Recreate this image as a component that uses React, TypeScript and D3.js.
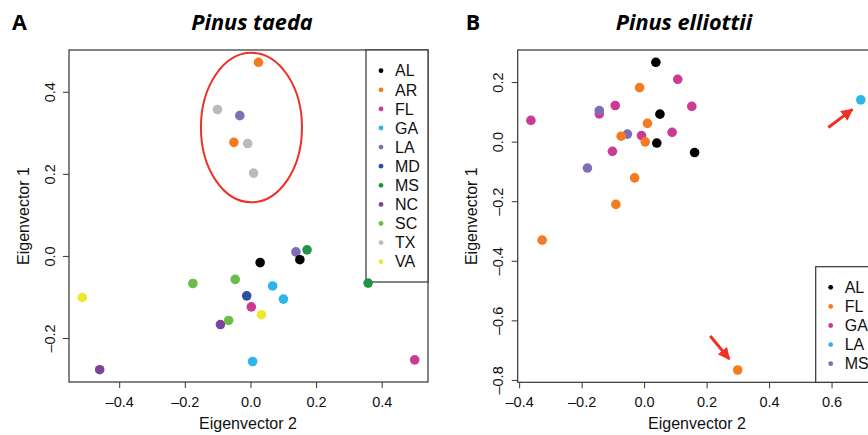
import React from "react";
import * as d3 from "d3";

// ---------- Data ----------
const taedaStates = ["AL", "AR", "FL", "GA", "LA", "MD", "MS", "NC", "SC", "TX", "VA"];
const taedaColors = ["#000000", "#F47B20", "#CC3A96", "#2CB6E8", "#7F6DB6", "#2D4F9E", "#1E9446", "#7A449B", "#6BBD45", "#BBBBBF", "#EEE82B"];
const taedaPoints = [
  { s: "AR", x: 0.023, y: 0.473 },
  { s: "TX", x: -0.102, y: 0.358 },
  { s: "LA", x: -0.034, y: 0.343 },
  { s: "AR", x: -0.052, y: 0.278 },
  { s: "TX", x: -0.010, y: 0.275 },
  { s: "TX", x: 0.008, y: 0.203 },
  { s: "MS", x: 0.171, y: 0.016 },
  { s: "LA", x: 0.137, y: 0.011 },
  { s: "AL", x: 0.028, y: -0.015 },
  { s: "AL", x: 0.149, y: -0.008 },
  { s: "MS", x: 0.357, y: -0.065 },
  { s: "SC", x: -0.177, y: -0.066 },
  { s: "SC", x: -0.048, y: -0.056 },
  { s: "GA", x: 0.066, y: -0.072 },
  { s: "MD", x: -0.013, y: -0.096 },
  { s: "GA", x: 0.099, y: -0.104 },
  { s: "VA", x: -0.514, y: -0.100 },
  { s: "FL", x: 0.001, y: -0.123 },
  { s: "VA", x: 0.032, y: -0.142 },
  { s: "NC", x: -0.093, y: -0.166 },
  { s: "SC", x: -0.068, y: -0.156 },
  { s: "GA", x: 0.005, y: -0.256 },
  { s: "FL", x: 0.499, y: -0.252 },
  { s: "NC", x: -0.461, y: -0.276 },
];
const taedaXTicks = [-0.4, -0.2, 0.0, 0.2, 0.4];
const taedaYTicks = [-0.2, 0.0, 0.2, 0.4];

const elliottiiStates = ["AL", "FL", "GA", "LA", "MS"];
const elliottiiColors = ["#000000", "#F47B20", "#CC3A96", "#2CB6E8", "#7F6DB6"];
const elliottiiPoints = [
  { s: "AL", x: 0.036, y: 0.268 },
  { s: "GA", x: 0.106, y: 0.211 },
  { s: "FL", x: -0.016, y: 0.183 },
  { s: "LA", x: 0.692, y: 0.142 },
  { s: "GA", x: -0.094, y: 0.123 },
  { s: "GA", x: 0.151, y: 0.120 },
  { s: "GA", x: -0.145, y: 0.095 },
  { s: "MS", x: -0.145, y: 0.106 },
  { s: "GA", x: -0.364, y: 0.073 },
  { s: "AL", x: 0.049, y: 0.094 },
  { s: "FL", x: 0.009, y: 0.063 },
  { s: "MS", x: -0.055, y: 0.027 },
  { s: "FL", x: -0.075, y: 0.020 },
  { s: "GA", x: -0.010, y: 0.022 },
  { s: "GA", x: 0.088, y: 0.033 },
  { s: "FL", x: 0.002, y: 0.001 },
  { s: "AL", x: 0.039, y: -0.003 },
  { s: "AL", x: 0.160, y: -0.035 },
  { s: "GA", x: -0.103, y: -0.031 },
  { s: "MS", x: -0.183, y: -0.087 },
  { s: "FL", x: -0.032, y: -0.120 },
  { s: "FL", x: -0.092, y: -0.209 },
  { s: "FL", x: -0.328, y: -0.329 },
  { s: "FL", x: 0.298, y: -0.765 },
];
const elliottiiXTicks = [-0.4, -0.2, 0.0, 0.2, 0.4, 0.6];
const elliottiiYTicks = [-0.8, -0.6, -0.4, -0.2, 0.0, 0.2];

// annotation arrows (data coordinates): [x1, y1, x2, y2]
const elliottiiArrows = [
  [0.588, 0.049, 0.665, 0.110],
  [0.210, -0.651, 0.271, -0.728],
];
// ellipse annotation (data coordinates): cx, cy, rx, ry
const taedaEllipse = [0.0015, 0.314, 0.154, 0.182];

const AXIS_FONT = "'Liberation Sans', Arial, Helvetica, sans-serif";
const TITLE_FONT = "'Open Sans', sans-serif";

function fmt(v: number) {
  const s = d3.format(".1f")(Math.abs(v));
  return v < 0 ? "\u2013" + s : s;
}

type PanelProps = {
  letter: string;
  letterX: number;
  title: string;
  titleX: number;
  states: string[];
  colors: string[];
  points: { s: string; x: number; y: number }[];
  xTicks: number[];
  yTicks: number[];
  box: { left: number; right: number; top: number; bottom: number };
  legend: { left: number; top: number; right: number; bottom: number; firstY: number };
  yTickLabelX: number;
  yLabelX: number;
  xLabelX: number;
  children?: (x: d3.ScaleLinear<number, number>, y: d3.ScaleLinear<number, number>) => React.ReactNode;
};

function Panel(p: PanelProps) {
  const xs = p.points.map((d) => d.x);
  const ys = p.points.map((d) => d.y);
  const [xmin, xmax] = d3.extent(xs) as [number, number];
  const [ymin, ymax] = d3.extent(ys) as [number, number];
  const xr = (xmax - xmin) * 0.04;
  const yr = (ymax - ymin) * 0.04;
  const x = d3.scaleLinear().domain([xmin - xr, xmax + xr]).range([p.box.left, p.box.right]);
  const y = d3.scaleLinear().domain([ymin - yr, ymax + yr]).range([p.box.bottom, p.box.top]);
  const color = d3.scaleOrdinal<string, string>().domain(p.states).range(p.colors);
  const axisColor = "#333";
  const tickLen = 6;
  return (
    <g>
      <text x={p.letterX} y={29.5} fontFamily={TITLE_FONT} fontWeight={700} fontSize={21.5} textAnchor="middle" fill="#000">
        {p.letter}
      </text>
      <text x={p.titleX} y={29.5} fontFamily={TITLE_FONT} fontWeight={700} fontStyle="italic" fontSize={21.7} textAnchor="middle" fill="#000">
        {p.title}
      </text>
      {/* box */}
      <rect x={p.box.left} y={p.box.top} width={p.box.right - p.box.left} height={p.box.bottom - p.box.top} fill="none" stroke={axisColor} strokeWidth={1.2} />
      {/* x axis */}
      {p.xTicks.map((t) => (
        <g key={"xt" + t}>
          <line x1={x(t)} x2={x(t)} y1={p.box.bottom} y2={p.box.bottom + tickLen} stroke={axisColor} strokeWidth={1} />
          <text x={x(t)} y={406.5} textAnchor="middle" fontFamily={AXIS_FONT} fontSize={14.5} fill="#111">
            {fmt(t)}
          </text>
        </g>
      ))}
      <text x={p.xLabelX} y={428.5} textAnchor="middle" fontFamily={AXIS_FONT} fontSize={16} fill="#111">
        Eigenvector 2
      </text>
      {/* y axis */}
      {p.yTicks.map((t) => (
        <g key={"yt" + t}>
          <line x1={p.box.left - tickLen} x2={p.box.left} y1={y(t)} y2={y(t)} stroke={axisColor} strokeWidth={1} />
          <text transform={`translate(${p.yTickLabelX},${y(t)}) rotate(-90)`} textAnchor="middle" fontFamily={AXIS_FONT} fontSize={14.5} fill="#111" dy="0.35em">
            {fmt(t)}
          </text>
        </g>
      ))}
      <text transform={`translate(${p.yLabelX},${(p.box.top + p.box.bottom) / 2}) rotate(-90)`} textAnchor="middle" fontFamily={AXIS_FONT} fontSize={16} fill="#111" dy="0.35em">
        Eigenvector 1
      </text>
      {/* legend */}
      <rect x={p.legend.left} y={p.legend.top} width={p.legend.right - p.legend.left} height={p.legend.bottom - p.legend.top} fill="#fff" stroke={axisColor} strokeWidth={1.2} />
      {p.states.map((s, i) => (
        <g key={"lg" + s}>
          <circle cx={p.legend.left + 15} cy={p.legend.firstY + i * 19.1} r={2.4} fill={color(s)} />
          <text x={p.legend.left + 29} y={p.legend.firstY + i * 19.1} dy="0.36em" fontFamily={AXIS_FONT} fontSize={16} fill="#111">
            {s}
          </text>
        </g>
      ))}
      {/* points */}
      {p.points.map((d, i) => (
        <circle key={i} cx={x(d.x)} cy={y(d.y)} r={4.8} fill={color(d.s)} />
      ))}
      {p.children && p.children(x, y)}
    </g>
  );
}

export default function App() {
  return (
    <svg width={868} height={435} style={{ position: "absolute", left: 0, top: 0, background: "#fff", overflow: "hidden" }}>
      <defs>
        <marker id="arrowhead" viewBox="0 0 10 10" refX="9" refY="5" markerWidth="4" markerHeight="4" orient="auto" markerUnits="strokeWidth">
          <path d="M0,0 L10,5 L0,10 z" fill="#EE3124" />
        </marker>
      </defs>
      <Panel
        letter="A"
        letterX={19.5}
        title="Pinus taeda"
        titleX={252}
        states={taedaStates}
        colors={taedaColors}
        points={taedaPoints}
        xTicks={taedaXTicks}
        yTicks={taedaYTicks}
        box={{ left: 69, right: 428, top: 50, bottom: 382 }}
        legend={{ left: 366, top: 50, right: 428, bottom: 282, firstY: 70.7 }}
        yTickLabelX={49.5}
        yLabelX={23}
        xLabelX={248}
      >
        {(x, y) => {
          const [cx, cy, rx, ry] = taedaEllipse;
          return (
            <ellipse
              cx={x(cx)}
              cy={y(cy)}
              rx={x(cx + rx) - x(cx)}
              ry={y(cy) - y(cy + ry)}
              fill="none"
              stroke="#EE3124"
              strokeWidth={2}
            />
          );
        }}
      </Panel>
      <Panel
        letter="B"
        letterX={473}
        title="Pinus elliottii"
        titleX={684}
        states={elliottiiStates}
        colors={elliottiiColors}
        points={elliottiiPoints}
        xTicks={elliottiiXTicks}
        yTicks={elliottiiYTicks}
        box={{ left: 517.7, right: 874, top: 50, bottom: 382.3 }}
        legend={{ left: 815.7, top: 266.7, right: 880, bottom: 382.3, firstY: 287.3 }}
        yTickLabelX={498}
        yLabelX={471.5}
        xLabelX={697}
      >
        {(x, y) =>
          elliottiiArrows.map((a, i) => (
            <line
              key={i}
              x1={x(a[0])}
              y1={y(a[1])}
              x2={x(a[2])}
              y2={y(a[3])}
              stroke="#EE3124"
              strokeWidth={3}
              markerEnd="url(#arrowhead)"
            />
          ))
        }
      </Panel>
    </svg>
  );
}
